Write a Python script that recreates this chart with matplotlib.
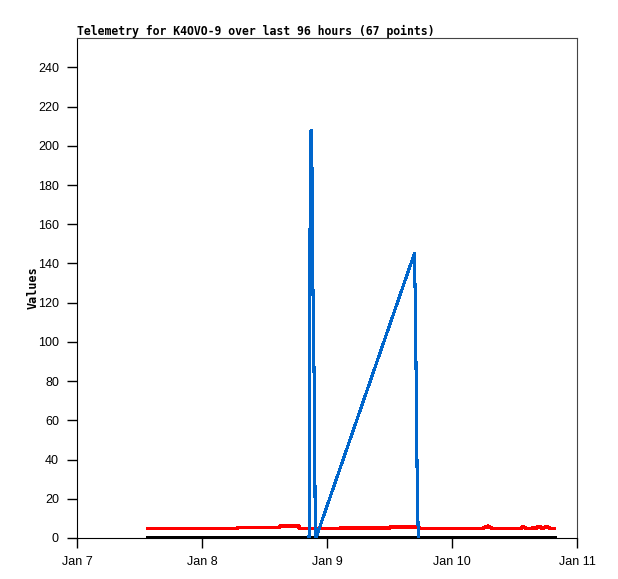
import pandas as pd
import matplotlib
matplotlib.use('Agg')
from matplotlib import pyplot as plt

# blue series
blue_time = ['2024-01-08 20:33', '2024-01-08 20:39', '2024-01-08 20:44', '2024-01-08 20:56',
             '2024-01-08 21:08', '2024-01-08 21:13', '2024-01-08 21:25', '2024-01-08 21:37',
             '2024-01-08 21:42', '2024-01-08 21:53', '2024-01-09 16:46', '2024-01-09 16:58',
             '2024-01-09 17:09', '2024-01-09 17:20', '2024-01-09 17:32']
blue_vals = [0, 52, 155, 208, 187, 145, 104, 63, 21, 0, 145, 120, 72, 24, 0]

# red series
red_time = ['2024-01-07 13:36', '2024-01-08 06:40', '2024-01-08 06:51', '2024-01-08 14:45',
            '2024-01-08 14:54', '2024-01-08 18:35', '2024-01-08 18:44', '2024-01-09 02:25',
            '2024-01-09 02:35', '2024-01-09 12:00', '2024-01-09 12:10', '2024-01-09 17:35',
            '2024-01-09 17:44', '2024-01-10 05:48', '2024-01-10 06:57', '2024-01-10 07:42',
            '2024-01-10 13:16', '2024-01-10 13:40', '2024-01-10 14:14', '2024-01-10 16:08',
            '2024-01-10 16:31', '2024-01-10 16:54', '2024-01-10 17:17', '2024-01-10 18:15',
            '2024-01-10 18:50', '2024-01-10 19:35']
red_vals = [4.8, 4.8, 5.3, 5.3, 6.0, 6.0, 4.8, 4.8, 5.2, 5.2, 5.8, 5.8,
            4.8, 4.8, 6.0, 4.8, 4.8, 5.8, 4.8, 5.0, 5.9, 5.9, 4.8, 5.8, 4.8, 4.8]

# black series
black_time = ['2024-01-07 13:36', '2024-01-10 19:35']
black_vals = [0, 0]

x_ticks = ['2024-01-07', '2024-01-08', '2024-01-09', '2024-01-10', '2024-01-11']
x_labels = ['Jan 7', 'Jan 8', 'Jan 9', 'Jan 10', 'Jan 11']
y_ticks = list(range(0, 241, 20))

plt.rcParams['font.family'] = 'Liberation Sans'

fig = plt.figure(figsize=(6.18, 5.79), dpi=100)
ax = fig.add_axes([77/618, 41/579, 500/618, 500/579])

ax.plot(pd.to_datetime(black_time), black_vals, color='black', lw=2.5, zorder=3, antialiased=False)
ax.plot(pd.to_datetime(red_time), red_vals, color='#ff0000', lw=2.0, zorder=4, antialiased=False)
ax.plot(pd.to_datetime(blue_time), blue_vals, color='#0066cc', lw=1.5, zorder=5, antialiased=False)

ax.set_xlim(pd.Timestamp(x_ticks[0]), pd.Timestamp(x_ticks[-1]))
ax.set_ylim(0, 255)
ax.set_xticks(pd.to_datetime(x_ticks))
ax.set_xticklabels(x_labels)
ax.set_yticks(y_ticks)
ax.tick_params(direction='out', length=7, width=1, labelsize=9, pad=6, color='black')
for s in ['top', 'right']:
    ax.spines[s].set_color('#444444')
for s in ['left', 'bottom']:
    ax.spines[s].set_color('black')

ax.set_ylabel('Values', family='DejaVu Sans Mono', fontweight='bold', fontsize=8.5)
ax.yaxis.set_label_coords(-0.075, 0.5)
ax.set_title('Telemetry for K4OVO-9 over last 96 hours (67 points)', family='DejaVu Sans Mono',
             fontweight='bold', fontsize=8.3, loc='left', pad=2)

plt.savefig('out.png', dpi=100)
